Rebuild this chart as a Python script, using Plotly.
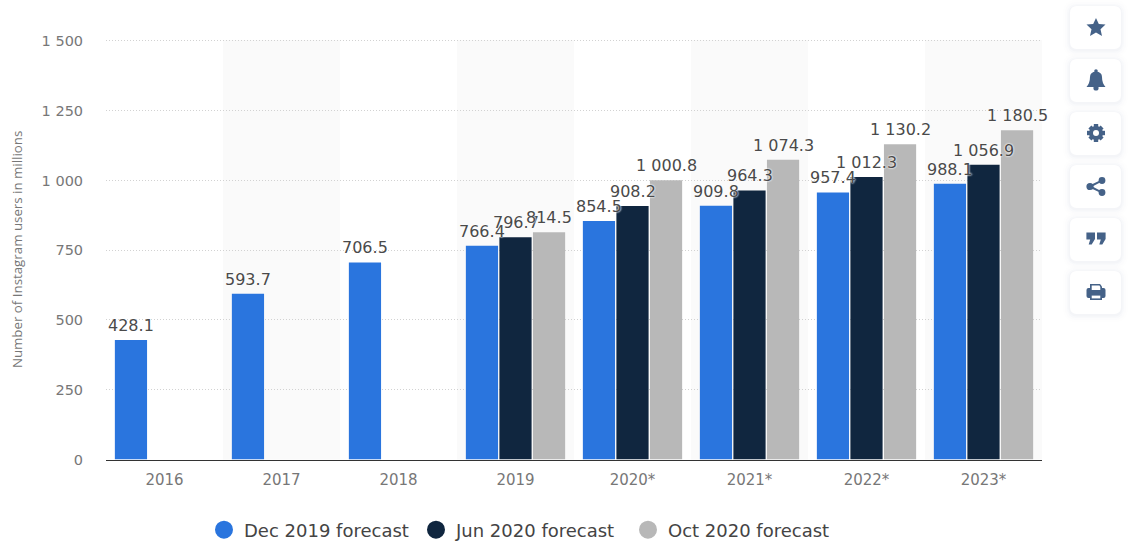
import plotly.graph_objects as go

W, H = 1134, 547

years = ["2016", "2017", "2018", "2019", "2020*", "2021*", "2022*", "2023*"]
dec_2019 = [428.1, 593.7, 706.5, 766.4, 854.5, 909.8, 957.4, 988.1]
jun_2020 = [None, None, None, 796.7, 908.2, 964.3, 1012.3, 1056.9]
oct_2020 = [None, None, None, 814.5, 1000.8, 1074.3, 1130.2, 1180.5]
y_ticks = [0, 250, 500, 750, 1000, 1250, 1500]
series_names = ["Dec 2019 forecast", "Jun 2020 forecast", "Oct 2020 forecast"]
series_colors = ["#2a75de", "#10263f", "#b8b8b8"]
LABEL_FONT = "DejaVu Sans"
ICON = "#456288"

# Plot frame in page pixels
LEFT, RIGHT = 106, 1042
BASE, TOP_TICK = 459.5, 41
BAR_GAP = 0.14
SLOT = (RIGHT - LEFT) / len(years) * (1 - BAR_GAP) / 3
Y_MAX = 1506
PX_PER_UNIT = (BASE - TOP_TICK) / 1500


def grouped(v):
    """Format a number with a space as thousands separator."""
    if v is None:
        return ""
    text = f"{v:,.1f}" if v != int(v) else f"{int(v):,}"
    return text.replace(",", " ")


def fx(x):
    return x / W


def fy(y):
    return 1 - y / H


def path(cmds):
    """Build an SVG path in paper units from page-pixel commands."""
    out = []
    for c in cmds:
        nums = c[1:]
        pts = [f"{fx(nums[i]):.5f},{fy(nums[i + 1]):.5f}" for i in range(0, len(nums), 2)]
        out.append(c[0] + " ".join(pts))
    return " ".join(out)


def rounded(x0, y0, x1, y1, r):
    return [("M", x0 + r, y0), ("L", x1 - r, y0), ("Q", x1, y0, x1, y0 + r),
            ("L", x1, y1 - r), ("Q", x1, y1, x1 - r, y1), ("L", x0 + r, y1),
            ("Q", x0, y1, x0, y1 - r), ("L", x0, y0 + r), ("Q", x0, y0, x0 + r, y0), ("Z",)]


def poly(cx, cy, pts):
    cmds = [("M", cx + pts[0][0], cy + pts[0][1])]
    cmds += [("L", cx + a, cy + b) for a, b in pts[1:]]
    cmds.append(("Z",))
    return cmds


def filled(cmds, color=ICON):
    return dict(type="path", xref="paper", yref="paper", path=path(cmds),
                fillcolor=color, line=dict(width=0), layer="above")


def dot(cx, cy, r, color=ICON):
    return dict(type="circle", xref="paper", yref="paper",
                x0=fx(cx - r), x1=fx(cx + r), y0=fy(cy + r), y1=fy(cy - r),
                fillcolor=color, line=dict(width=0), layer="above")


fig = go.Figure()
annotations = []

# Grouped bars; value labels sit above each bar and may run over its neighbours
for k, (name, values, color) in enumerate(zip(series_names, [dec_2019, jun_2020, oct_2020], series_colors)):
    fig.add_bar(x=years, y=values, name=name, showlegend=False,
                marker=dict(color=color, line=dict(width=0)), hoverinfo="skip")
    for i, v in enumerate(values):
        if v is None:
            continue
        # Category axes take the position index here: "2016" alone would read as a number
        annotations.append(dict(
            x=i, y=v, xref="x", yref="y", text=grouped(v), showarrow=False,
            xanchor="center", yanchor="bottom", xshift=(k - 1) * SLOT, yshift=4, borderpad=0,
            font=dict(family=LABEL_FONT, size=16, color="#4a4a4a",
                      shadow="0px 0px 2px #ffffff, 0px 0px 2px #ffffff"),
        ))

# Round legend swatches
for name, color in zip(series_names, series_colors):
    fig.add_scatter(x=[None], y=[None], mode="markers", name=name,
                    marker=dict(color=color, size=16, symbol="circle",
                                line=dict(color=color, width=2)))

shapes = []

# Alternating background bands
for i in range(1, len(years), 2):
    shapes.append(dict(type="rect", xref="x", yref="paper", x0=i - 0.5, x1=i + 0.5,
                       y0=fy(BASE), y1=fy(TOP_TICK - 1), fillcolor="#fafafa",
                       line=dict(width=0), layer="below"))

# Toolbar cards on the right
card_tops = [6, 59, 112, 165, 218, 271]
for top in card_tops:
    for grow, alpha in [(7, 0.008), (5, 0.012), (3, 0.018), (1.5, 0.025)]:
        shapes.append(filled(rounded(1070 - grow, top - grow + 1, 1121 + grow, top + 43 + grow + 1, 7 + grow),
                             color=f"rgba(70,90,130,{alpha})"))
    shapes.append(filled(rounded(1070, top, 1121, top + 43, 7), color="#ffffff"))

cx = 1096
# star
shapes.append(filled(poly(cx, 27, [(0, -9), (2.8, -3), (9.5, -2.4), (4.5, 2.2), (6, 9),
                                   (0, 5.4), (-6, 9), (-4.5, 2.2), (-9.5, -2.4), (-2.8, -3)])))
# bell
shapes.append(filled([("M", cx - 9.5, 87), ("Q", cx - 6, 83, cx - 6, 77), ("Q", cx - 6, 72, cx, 71.5),
                      ("Q", cx + 6, 72, cx + 6, 77), ("Q", cx + 6, 83, cx + 9.5, 87), ("Z",)]))
shapes.append(dot(cx, 71, 1.8))
shapes.append(dot(cx, 88, 2.6))
# gear
shapes.append(dot(cx, 133, 7))
shapes.append(filled(poly(cx, 133, [(-2.2, -9), (2.2, -9), (2.2, 9), (-2.2, 9)])))
shapes.append(filled(poly(cx, 133, [(-9, -2.2), (9, -2.2), (9, 2.2), (-9, 2.2)])))
shapes.append(filled(poly(cx, 133, [(-7.6, -4.6), (-4.6, -7.6), (7.6, 4.6), (4.6, 7.6)])))
shapes.append(filled(poly(cx, 133, [(7.6, -4.6), (4.6, -7.6), (-7.6, 4.6), (-4.6, 7.6)])))
shapes.append(dot(cx, 133, 3, "#ffffff"))
# share
shapes.append(dot(cx - 6, 186.5, 3.6))
shapes.append(dot(cx + 6, 180.5, 3.4))
shapes.append(dot(cx + 6, 192.5, 3.4))
shapes.append(filled(poly(cx, 186.5, [(-6, -1.2), (6, -7), (6, -5), (-6, 1.2)])))
shapes.append(filled(poly(cx, 186.5, [(-6, -1.2), (6, 5), (6, 7), (-6, 1.2)])))
# closing quotes
for off in (-5.3, 5.3):
    shapes.append(filled(poly(cx + off, 238, [(-4.3, -5.5), (4.3, -5.5), (4.3, 1), (1, 6.5), (-2, 6.5),
                                              (-0.5, 1.5), (-4.3, 1.5)])))
# printer
shapes.append(filled(rounded(cx - 9.5, 288, cx + 9.5, 298, 2)))
shapes.append(filled(poly(cx, 292, [(-6, -8), (4, -8), (6, -5.5), (6, -2), (-6, -2)])))
shapes.append(filled(poly(cx, 292, [(-4.3, -6.4), (3.5, -6.4), (4.3, -5), (4.3, -2), (-4.3, -2)]), color="#ffffff"))
shapes.append(filled(poly(cx, 292, [(-6, 2), (6, 2), (6, 8), (-6, 8)])))
shapes.append(filled(poly(cx, 292, [(-4.3, 3.6), (4.3, 3.6), (4.3, 6.4), (-4.3, 6.4)]), color="#ffffff"))

fig.update_layout(
    width=W, height=H,
    margin=dict(l=0, r=0, t=0, b=0, autoexpand=False),
    paper_bgcolor="#ffffff", plot_bgcolor="rgba(0,0,0,0)",
    barmode="group", bargap=BAR_GAP, bargroupgap=0.04,
    shapes=shapes, annotations=annotations,
    font=dict(family=LABEL_FONT, color="#666666"),
    xaxis=dict(
        domain=[fx(LEFT), fx(RIGHT)], range=[-0.5, 7.5], type="category",
        categoryorder="array", categoryarray=years,
        showline=True, linecolor="#333333", linewidth=1, showgrid=False,
        ticks="outside", ticklen=6, tickcolor="rgba(0,0,0,0)",
        tickfont=dict(size=15, color="#777777"), zeroline=False,
    ),
    yaxis=dict(
        domain=[fy(BASE), fy(BASE - Y_MAX * PX_PER_UNIT)], range=[0, Y_MAX],
        tickmode="array", tickvals=y_ticks, ticktext=[grouped(t) for t in y_ticks],
        showgrid=True, gridcolor="#d2d2d2", griddash="1px,2px", gridwidth=1, zeroline=False,
        showline=False, ticks="outside", ticklen=19, tickcolor="rgba(0,0,0,0)",
        tickfont=dict(size=14.5, color="#777777"),
        title=dict(text="Number of Instagram users in millions", standoff=15,
                   font=dict(family="Open Sans", size=13.3, color="#777777")),
    ),
    legend=dict(orientation="h", x=fx(204), xanchor="left", y=fy(530), yanchor="middle",
                entrywidth=167, entrywidthmode="pixels", traceorder="normal",
                itemclick=False, itemdoubleclick=False,
                font=dict(family=LABEL_FONT, size=18, color="#444444"),
                bgcolor="rgba(0,0,0,0)"),
)

fig.write_html("out.html", config=dict(displayModeBar=False))
